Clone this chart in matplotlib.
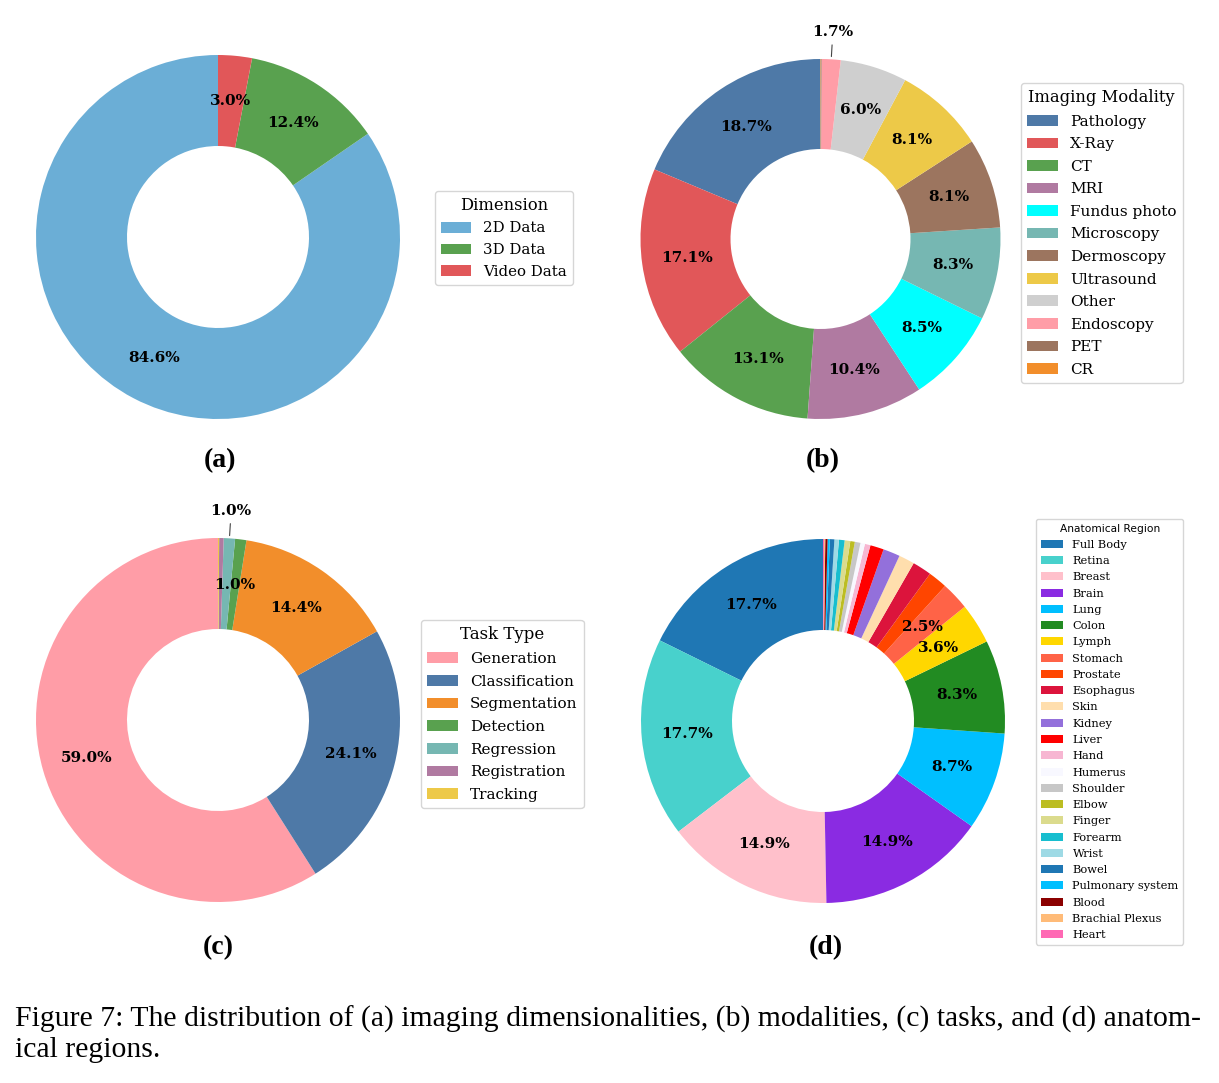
import matplotlib
matplotlib.use("Agg")
import matplotlib.pyplot as plt
import numpy as np

# (a) dimensionality
dim_names = ["2D Data", "3D Data", "Video Data"]
dim_values = [84.6, 12.4, 3.0]
dim_colors = ["#6baed6", "#59a14f", "#e15759"]

# (b) imaging modality
mod_names = ["Pathology", "X-Ray", "CT", "MRI", "Fundus photo", "Microscopy",
             "Dermoscopy", "Ultrasound", "Other", "Endoscopy", "PET", "CR"]
mod_values = [18.7, 17.1, 13.1, 10.4, 8.5, 8.3, 8.1, 8.1, 6.0, 1.7, 0.05, 0.05]
mod_colors = ["#4e79a7", "#e15759", "#59a14f", "#b07aa1", "#00ffff", "#76b7b2",
              "#9c755f", "#edc948", "#cfcfcf", "#ff9da7", "#9c755f", "#f28e2b"]

# (c) task type
task_names = ["Generation", "Classification", "Segmentation", "Detection",
              "Regression", "Registration", "Tracking"]
task_values = [59.0, 24.1, 14.4, 1.0, 1.0, 0.4, 0.1]
task_colors = ["#ff9da7", "#4e79a7", "#f28e2b", "#59a14f", "#76b7b2", "#b07aa1", "#edc948"]

# (d) anatomical region
reg_names = ["Full Body", "Retina", "Breast", "Brain", "Lung", "Colon", "Lymph",
             "Stomach", "Prostate", "Esophagus", "Skin", "Kidney", "Liver", "Hand",
             "Humerus", "Shoulder", "Elbow", "Finger", "Forearm", "Wrist", "Bowel",
             "Pulmonary system", "Blood", "Brachial Plexus", "Heart"]
reg_values = [17.7, 17.7, 14.9, 14.9, 8.7, 8.3, 3.6, 2.5, 1.7, 1.7, 1.4, 1.5, 1.2,
              0.5, 0.4, 0.5, 0.4, 0.5, 0.5, 0.4, 0.4, 0.2, 0.2, 0.1, 0.1]
reg_colors = ["#1f77b4", "#48d1cc", "#ffc0cb", "#8a2be2", "#00bfff", "#228b22",
              "#ffd700", "#ff6347", "#ff4500", "#dc143c", "#ffdead", "#9370db",
              "#ff0000", "#f7b6d2", "#f8f8ff", "#c7c7c7", "#bcbd22", "#dbdb8d",
              "#17becf", "#9edae5", "#1f77b4", "#00bfff", "#8b0000", "#ffbb78",
              "#ff69b4"]

W, H = 1219, 1083
fig = plt.figure(figsize=(W / 100, H / 100), dpi=100)


def add_donut(cx, cy, r, values, colors, names, min_pct, outside=(), fs=11):
    pad = 1.35
    side = 2 * r * pad
    ax = fig.add_axes([(cx - side / 2) / W, 1 - (cy + side / 2) / H, side / W, side / H])
    wedges, _ = ax.pie(values, colors=colors, startangle=90, counterclock=True,
                       radius=1.0, wedgeprops=dict(width=0.5, edgecolor="none"))
    total = sum(values)
    for w, v, name in zip(wedges, values, names):
        pct = v / total * 100
        ang = np.deg2rad((w.theta1 + w.theta2) / 2)
        x, y = np.cos(ang), np.sin(ang)
        label = f"{pct:.1f}%"
        if name in outside:
            ax.annotate(label, xy=(x, y), xytext=(1.15 * x, 1.15 * y), ha="center", va="center",
                        fontsize=fs, fontweight="bold", family="DejaVu Serif",
                        arrowprops=dict(arrowstyle="-", color="#444444", lw=0.8))
        elif pct >= min_pct:
            ax.text(0.75 * x, 0.75 * y, label, ha="center", va="center",
                    fontsize=fs, fontweight="bold", family="DejaVu Serif")
    ax.set_xlim(-pad, pad)
    ax.set_ylim(-pad, pad)
    ax.axis("off")
    return wedges


def add_legend(handles, names, title, x, y, fs, tfs, ls=0.5, title_family="DejaVu Serif"):
    fig.legend(handles, names, title=title, loc="upper left",
               bbox_to_anchor=(x / W, 1 - y / H), borderaxespad=0, labelspacing=ls,
               prop={"family": "DejaVu Serif", "size": fs},
               title_fontproperties={"family": title_family, "size": tfs})


wa = add_donut(218, 237, 182, dim_values, dim_colors, dim_names, 0)
add_legend(wa, dim_names, "Dimension", 435, 191, 10.8, 11.8)

wb = add_donut(820.5, 239, 180, mod_values, mod_colors, mod_names, 2, outside=["Endoscopy"])
add_legend(wb, mod_names, "Imaging Modality", 1021, 83, 11, 11.8, ls=0.56)

wc = add_donut(218, 720, 182, task_values, task_colors, task_names, 0.9, outside=["Regression"])
add_legend(wc, task_names, "Task Type", 421, 620, 11, 12, ls=0.57)

wd = add_donut(823, 721, 182, reg_values, reg_colors, reg_names, 2.5)
add_legend(wd, reg_names, "Anatomical Region", 1036, 519, 8.2, 7.7, ls=0.55,
           title_family="DejaVu Sans")

for lab, x, y in [("(a)", 220, 461), ("(b)", 823, 461), ("(c)", 218, 948), ("(d)", 826, 948)]:
    fig.text(x / W, 1 - y / H, lab, ha="center", va="center", fontsize=20,
             fontweight="bold", family="Liberation Serif")

fig.text(15 / W, 1 - 1019 / H,
         "Figure 7: The distribution of (a) imaging dimensionalities, (b) modalities, (c) tasks, and (d) anatom-",
         ha="left", va="center", fontsize=21.4, family="Liberation Serif")
fig.text(15 / W, 1 - 1050 / H, "ical regions.", ha="left", va="center",
         fontsize=21.4, family="Liberation Serif")

fig.savefig("out.png", dpi=100, facecolor="white")
